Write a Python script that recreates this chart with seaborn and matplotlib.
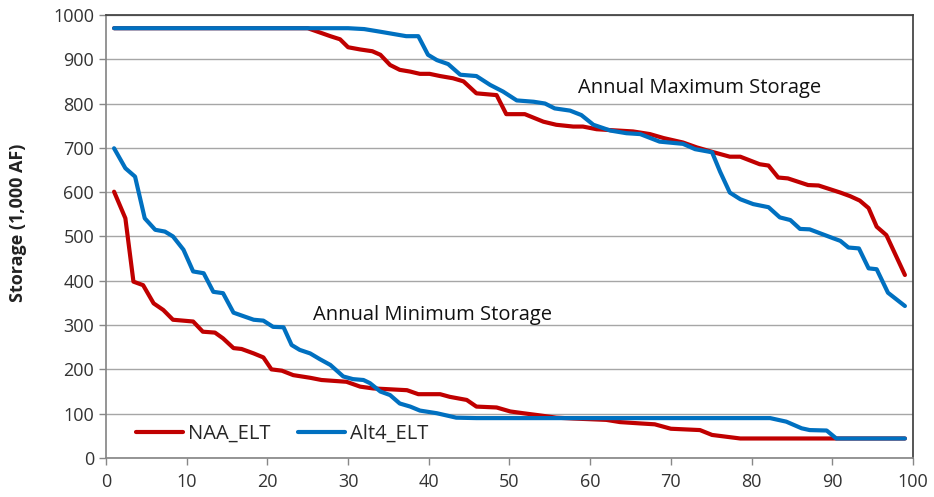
import numpy as np
import pandas as pd
import seaborn as sns
import matplotlib
matplotlib.use("Agg")
import matplotlib.pyplot as plt

# ---- data (exceedance %, storage in 1,000 AF) ----
naa_max_x = [1, 25, 27.8, 29, 30, 31.5, 33, 34, 35.2, 36.4, 37.7, 38.9, 40.1, 41.4, 43, 44.3,
             45.9, 48.4, 49.6, 51.9, 54.2, 55.8, 57.9, 59.1, 60.8, 62.5, 65.3, 67.4, 69.1, 71.5,
             73.2, 75.1, 77.3, 78.6, 81, 82.1, 83.3, 84.5, 87, 88.3, 91, 92.2, 93.4, 94.5, 95.5,
             96.7, 99]
naa_max_y = [970, 970, 952, 945, 927, 922, 918, 910, 887, 876, 872, 867, 867, 862, 857, 850,
             823, 819, 776, 776, 759, 752, 748, 748, 742, 740, 737, 731, 722, 712,
             701, 691, 680, 680, 663, 660, 633, 631, 616, 615, 599, 591, 581, 564, 522,
             503, 413]

alt_max_x = [1, 30, 32, 34, 37.2, 38.7, 39.9, 41, 42.4, 43.9, 45.9, 47.6, 49.2, 50.9, 53, 54.4,
             55.6, 57.5, 58.9, 60.4, 62.5, 64.5, 66.2, 68.6, 71.5, 73, 75.1, 76.1, 77.3, 78.6,
             80.2, 82.1, 83.5, 84.8, 86, 87.2, 90.1, 91, 92, 93.3, 94.5, 95.5, 96.9, 99]
alt_max_y = [970, 970, 968, 962, 952, 952, 910, 898, 889, 865, 862, 842, 827, 807, 804, 800,
             789, 784, 774, 752, 739, 733, 731, 714, 709, 697, 690, 646, 599, 584,
             573, 566, 543, 537, 517, 516, 496, 490, 475, 473, 428, 426, 373, 343]

naa_min_x = [1, 2.4, 3.4, 4.6, 5.9, 7.1, 8.3, 10.8, 12, 13.5, 14.5, 15.8, 16.8, 18.3, 19.5, 20.5,
             21.8, 23.2, 25.3, 26.7, 29.8, 31.5, 33.1, 35.2, 37.3, 38.7, 41.4, 42.6, 44.7, 45.9,
             48.4, 50.1, 51.7, 53.4, 55.8, 58, 62, 63.7, 66.2, 68, 70, 73.6, 75.1, 78.6, 99]
naa_min_y = [601, 541, 398, 390, 349, 334, 312, 308, 285, 283, 270, 248, 246, 236, 227, 200,
             197, 187, 181, 176, 172, 161, 157, 155, 153, 144, 144, 138, 131, 116,
             114, 105, 101, 97, 91, 89, 86, 81, 78, 76, 66, 63, 52, 44, 44]

alt_min_x = [1, 2.4, 3.6, 4.8, 6.1, 7.3, 8.3, 9.6, 10.8, 12.1, 13.3, 14.5, 15.8, 17.2, 18.3, 19.5,
             20.7, 22, 23, 24, 25.3, 26.5, 27.8, 29.4, 30.6, 31.9, 32.7, 34, 35.2, 36.4, 37.7,
             38.9, 41, 43.4, 45.9, 82.3, 84.3, 86.2, 87.2, 89.3, 90.5, 99]
alt_min_y = [699, 654, 635, 541, 515, 511, 500, 470, 421, 417, 375, 372, 328, 319, 312, 310,
             296, 295, 255, 244, 236, 223, 210, 184, 178, 176, 169, 150, 142, 123, 116,
             107, 101, 91, 90, 90, 82, 67, 63, 62, 44, 44]

scenarios = ["NAA_ELT", "Alt4_ELT"]
colors = {"NAA_ELT": "#C00000", "Alt4_ELT": "#0070C0"}

frames = []
for name, stat, xs, ys in [("NAA_ELT", "max", naa_max_x, naa_max_y),
                           ("NAA_ELT", "min", naa_min_x, naa_min_y),
                           ("Alt4_ELT", "max", alt_max_x, alt_max_y),
                           ("Alt4_ELT", "min", alt_min_x, alt_min_y)]:
    frames.append(pd.DataFrame({"x": xs, "y": ys, "scenario": name, "stat": stat}))
df = pd.concat(frames, ignore_index=True)

sns.set_theme(style="ticks")
plt.rcParams["font.family"] = ["Open Sans", "DejaVu Sans"]

fig = plt.figure(figsize=(9.34, 4.97), dpi=100)
ax = fig.add_axes([0.1135, 0.0785, 0.864, 0.8915])

sns.lineplot(data=df, x="x", y="y", hue="scenario", hue_order=scenarios, units="stat",
             estimator=None, palette=colors, linewidth=3, ax=ax, legend=True)

ax.set_xlim(0, 100)
ax.set_ylim(0, 1000)
ax.set_xticks(np.arange(0, 101, 10))
ax.set_yticks(np.arange(0, 1001, 100))
ax.set_xlabel("")
ax.set_ylabel("Storage (1,000 AF)", fontsize=13, fontweight="bold", color="#222222")
ax.yaxis.set_label_coords(-0.098, 0.53)
ax.tick_params(axis="both", direction="out", length=5, width=1, color="#888888",
               labelsize=13, labelcolor="#333333")
ax.tick_params(axis="x", pad=6)
ax.yaxis.grid(True, color="#a6a6a6", linewidth=1)
ax.set_axisbelow(True)
for side in ["left", "bottom"]:
    ax.spines[side].set_color("#888888")
for side in ["top", "right"]:
    ax.spines[side].set_visible(True)
    ax.spines[side].set_color("#404040")

ax.text(58.5, 835, "Annual Maximum Storage", fontsize=14.5, color="#111111", va="center")
ax.text(25.6, 323, "Annual Minimum Storage", fontsize=14.5, color="#111111", va="center")

ax.legend(loc="center left", bbox_to_anchor=(0.015, 0.055), ncol=2, frameon=False,
          handlelength=2.3, columnspacing=1.4, fontsize=14.5, handletextpad=0.25)

fig.savefig("out.png", dpi=100)
